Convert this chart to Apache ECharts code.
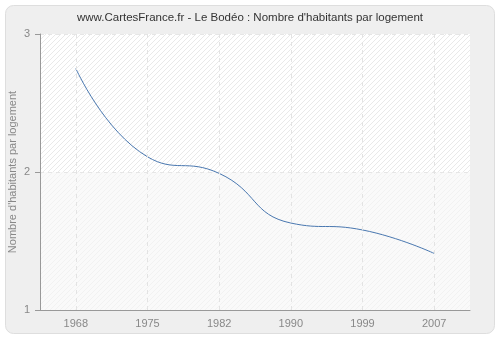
<!DOCTYPE html>
<html>
<head>
<meta charset="utf-8">
<script src="https://cdn.jsdelivr.net/npm/echarts@6/dist/echarts.min.js"></script>
<style>
  html, body { margin: 0; padding: 0; background: #ffffff; }
  #chart { width: 500px; height: 340px; }
</style>
</head>
<body>
<div id="chart"></div>
<script>
// Census years and average household size
const years = ['1968', '1975', '1982', '1990', '1999', '2007'];
const habitantsParLogement = [2.75, 2.11, 1.99, 1.63, 1.58, 1.41];
const yTicks = [1, 2, 3];

// Diagonal hatch fill for the plot bands
function hatch(bg, line) {
  const s = 5;
  const c = document.createElement('canvas');
  c.width = s; c.height = s;
  const g = c.getContext('2d');
  g.fillStyle = bg;
  g.fillRect(0, 0, s, s);
  g.strokeStyle = line;
  g.lineWidth = 1;
  g.beginPath();
  g.moveTo(-1, s + 1); g.lineTo(s + 1, -1);
  g.moveTo(-1, 1); g.lineTo(1, -1);
  g.moveTo(s - 1, s + 1); g.lineTo(s + 1, s - 1);
  g.stroke();
  return { image: c, repeat: 'repeat' };
}

const chart = echarts.init(document.getElementById('chart'), null, { renderer: 'canvas' });
const labelFont = 'Liberation Sans, Arial, sans-serif';

chart.setOption({
  backgroundColor: '#ffffff',
  animation: false,
  graphic: [{
    type: 'rect',
    z: -10,
    shape: { x: 5.5, y: 5.5, width: 489, height: 328, r: 8 },
    style: { fill: '#efefef', stroke: '#dedede', lineWidth: 1 },
    silent: true
  }],
  title: {
    text: "www.CartesFrance.fr - Le Bodéo : Nombre d'habitants par logement",
    left: 'center',
    top: 7,
    textStyle: { fontFamily: labelFont, fontSize: 11.5, fontWeight: 'normal', color: '#333333' }
  },
  grid: { left: 40, right: 30, top: 34, bottom: 30, containLabel: false, outerBoundsMode: 'none' },
  xAxis: {
    type: 'category',
    data: years,
    boundaryGap: true,
    axisLine: { lineStyle: { color: '#999999', width: 1 } },
    axisTick: { alignWithLabel: true, length: 5, lineStyle: { color: '#999999' } },
    axisLabel: { color: '#888888', fontFamily: labelFont, fontSize: 11, margin: 8 },
    splitLine: { show: false }
  },
  yAxis: {
    type: 'value',
    min: yTicks[0],
    max: yTicks[yTicks.length - 1],
    interval: 1,
    name: "Nombre d'habitants par logement",
    nameLocation: 'middle',
    nameGap: 22,
    nameMoveOverlap: false,
    nameTextStyle: { color: '#888888', fontFamily: labelFont, fontSize: 11 },
    axisLine: { show: true, lineStyle: { color: '#999999', width: 1 } },
    axisTick: { show: true, length: 5, lineStyle: { color: '#999999' } },
    axisLabel: { color: '#888888', fontFamily: labelFont, fontSize: 11, margin: 10 },
    splitLine: { show: true, lineStyle: { color: '#e6e6e6', type: [4, 4], width: 1 } },
    splitArea: {
      show: true,
      areaStyle: { color: [hatch('#fafafa', '#f2f2f2'), hatch('#ffffff', '#e9e9e9')] }
    }
  },
  series: [{
    type: 'line',
    data: habitantsParLogement,
    smooth: 0.5,
    symbol: 'none',
    lineStyle: { color: '#4a78b0', width: 1 },
    markLine: {
      silent: true,
      symbol: 'none',
      label: { show: false },
      lineStyle: { color: '#e3e3e3', type: [4, 4], width: 1 },
      data: years.map(y => ({ xAxis: y }))
    },
    z: 3
  }]
});
</script>
</body>
</html>
